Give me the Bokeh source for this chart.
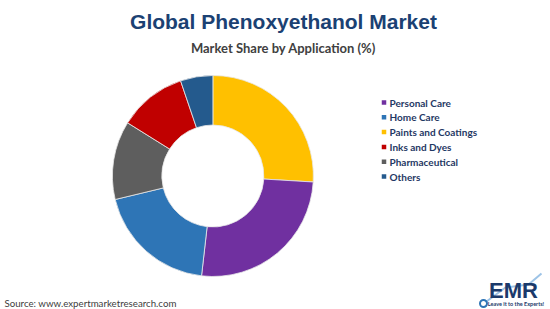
import math
from bokeh.plotting import figure
from bokeh.models import Range1d, ColumnDataSource
from bokeh.core.properties import value
from bokeh.embed import file_html
from bokeh.resources import INLINE

# ---- data ----
categories = ["Personal Care", "Home Care", "Paints and Coatings", "Inks and Dyes", "Pharmaceutical", "Others"]
shares = [25.8, 19.4, 25.9, 10.9, 12.6, 5.2]
# drawing order, clockwise from 12 o'clock
draw_order = ["Paints and Coatings", "Personal Care", "Home Care", "Pharmaceutical", "Inks and Dyes", "Others"]
palette = ["#7030A0", "#2E75B6", "#FFC000", "#C00000", "#5E5E5E", "#245A8D"]

W, H = 550, 309
p = figure(width=W, height=H, x_range=Range1d(0, W), y_range=Range1d(0, H),
           output_backend="svg", toolbar_location=None, min_border=0)
p.axis.visible = False
p.grid.visible = False
p.outline_line_color = None
p.background_fill_color = "white"
p.border_fill_color = "white"

def Y(py):
    return H - py

cx, cy = 212.4, Y(175.5)
r_out, r_in = 100.5, 51.0

total = sum(shares)
share_of = dict(zip(categories, shares))
color_of = dict(zip(categories, palette))
starts, ends, cols = [], [], []
acc = 0.0
for c in draw_order:
    a0 = acc / total * 2 * math.pi
    acc += share_of[c]
    a1 = acc / total * 2 * math.pi
    starts.append(math.pi / 2 - a0)
    ends.append(math.pi / 2 - a1)
    cols.append(color_of[c])

src = ColumnDataSource(dict(start=starts, end=ends, color=cols))
p.annular_wedge(x=cx, y=cy, inner_radius=r_in, outer_radius=r_out,
                start_angle="start", end_angle="end", direction="clock",
                fill_color="color", line_color="#E8E8E8", line_width=0.8, source=src)

# titles
p.text(x=[283], y=[Y(21)], text=["Global Phenoxyethanol Market"], text_align="center",
       text_baseline="middle", text_font=value("Liberation Sans"), text_font_style="bold",
       text_font_size="21px", text_color="#1B4173")
p.text(x=[283], y=[Y(47)], text=["Market Share by Application (%)"], text_align="center",
       text_baseline="middle", text_font=value("Lato"), text_font_style="bold",
       text_font_size="13px", text_color="#404040")

# legend
lx, ly0, dy = 383.5, 102, 14.8
lys = [Y(ly0 + i * dy) for i in range(len(categories))]
p.rect(x=[lx] * len(categories), y=lys, width=4.5, height=4.5, fill_color=palette, line_color=None)
p.text(x=[lx + 5.5] * len(categories), y=lys, text=categories, text_baseline="middle",
       text_font=value("Lato"), text_font_style="bold", text_font_size="10px", text_color="#1F3864")

# source
p.text(x=[4], y=[Y(302.5)], text=["Source: www.expertmarketresearch.com"], text_baseline="middle",
       text_font=value("Lato"), text_font_size="9.7px", text_color="#404040")

# logo
p.line(x=[486, 505, 528, 541], y=[Y(301), Y(287), Y(284), Y(273)], line_color="#5B9BD5",
       line_width=2, line_alpha=0.6)
p.text(x=[513], y=[Y(290)], text=["EMR"], text_align="center", text_baseline="middle",
       text_font=value("Liberation Sans"), text_font_style="bold", text_font_size="22px",
       text_color="#1B3A6B")
p.text(x=[515.5], y=[Y(303)], text=["Leave it to the Experts!"], text_align="center", text_baseline="middle",
       text_font=value("Lato"), text_font_style="bold", text_font_size="5.5px", text_color="#1B3A6B")
p.scatter(x=[483], y=[Y(303)], size=7, marker="circle", fill_color="white",
          line_color="#2E75B6", line_width=2)

open("out.html", "w").write(file_html(p, INLINE))
